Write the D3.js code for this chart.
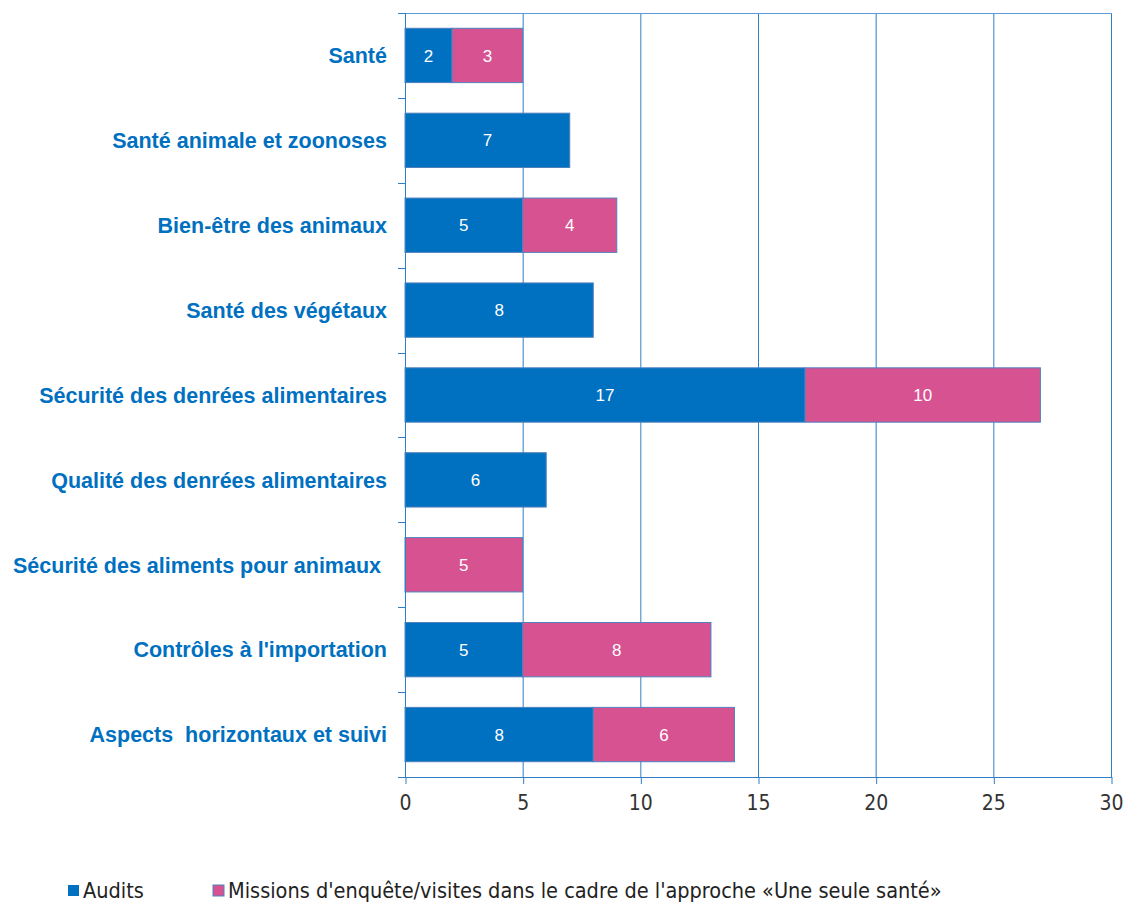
<!DOCTYPE html>
<html><head><meta charset="utf-8">
<script src="https://cdn.jsdelivr.net/npm/d3@7"></script>
<style>body{margin:0;background:#fff}svg{display:block}</style>
</head><body>
<svg id="c" width="1136" height="904"></svg>
<script>
const categories = ["Santé","Santé animale et zoonoses","Bien-être des animaux","Santé des végétaux","Sécurité des denrées alimentaires","Qualité des denrées alimentaires","Sécurité des aliments pour animaux ","Contrôles à l'importation","Aspects  horizontaux et suivi"];
const audits = [2,7,5,8,17,6,0,5,8];
const missions = [3,0,4,0,10,0,5,8,6];
const xTicks = [0,5,10,15,20,25,30];
const seriesNames = ["Audits","Missions d'enquête/visites dans le cadre de l'approche «Une seule santé»"];
const colors = ["#0070C0","#D75291"];

const svg = d3.select("#c");
const L=405, R=1111, T=13, B=777;
const x = d3.scaleLinear().domain([0,30]).range([L,R]);
const y = d3.scaleBand().domain(categories).range([T,B]).paddingInner(0.36).paddingOuter(0.18);
const axisCol = "#2E7FC4";
const narrow = "Liberation Sans Narrow, DejaVu Sans Condensed, Open Sans, sans-serif";

// gridlines
svg.append("g").selectAll("line").data(xTicks.filter(d=>d>0)).join("line")
  .attr("x1",d=>x(d)+0.5).attr("x2",d=>x(d)+0.5).attr("y1",T).attr("y2",B)
  .attr("stroke",axisCol).attr("stroke-width",1);
// top border
svg.append("line").attr("x1",L-7).attr("x2",R+1).attr("y1",T+0.5).attr("y2",T+0.5).attr("stroke","#5B9BD5").attr("stroke-width",1.2);

// bars
const rows = categories.map((c,i)=>({c, a:audits[i], m:missions[i]}));
const segs = [];
rows.forEach(r=>{
  if(r.a>0) segs.push({c:r.c, x0:0, x1:r.a, v:r.a, s:0});
  if(r.m>0) segs.push({c:r.c, x0:r.a, x1:r.a+r.m, v:r.m, s:1});
});
const g = svg.append("g");
g.selectAll("rect").data(segs).join("rect")
  .attr("x",d=>x(d.x0)).attr("width",d=>x(d.x1)-x(d.x0))
  .attr("y",d=>y(d.c)).attr("height",y.bandwidth())
  .attr("fill",d=>colors[d.s]).attr("stroke","#4F81BD").attr("stroke-width",1);
g.selectAll("text").data(segs).join("text")
  .attr("x",d=>(x(d.x0)+x(d.x1))/2).attr("y",d=>y(d.c)+y.bandwidth()/2)
  .attr("dy","0.36em").attr("text-anchor","middle")
  .attr("fill","#fff").attr("font-family","Liberation Sans, Arial, sans-serif").attr("font-size",17)
  .text(d=>d.v);

// left axis
svg.append("line").attr("x1",L+0.5).attr("x2",L+0.5).attr("y1",T).attr("y2",B).attr("stroke",axisCol).attr("stroke-width",1);
const sepY = d3.range(categories.length+1).map(i=>T+(B-T)*i/categories.length);
svg.append("g").selectAll("line").data(sepY).join("line")
  .attr("x1",L-7).attr("x2",L).attr("y1",d=>Math.round(d)+0.5).attr("y2",d=>Math.round(d)+0.5)
  .attr("stroke",axisCol);
svg.append("g").selectAll("text").data(categories).join("text")
  .attr("x",387).attr("y",d=>y(d)+y.bandwidth()/2).attr("dy","0.36em")
  .attr("text-anchor","end").attr("fill","#0070C0").attr("font-weight","bold")
  .attr("font-family","Liberation Sans, Arial, sans-serif").attr("font-size",21.5)
  .style("white-space","pre").text(d=>d);

// bottom axis
const xa = svg.append("g").attr("transform",`translate(0,${B})`)
  .call(d3.axisBottom(x).tickValues(xTicks).tickSize(7).tickPadding(11).tickSizeOuter(0));
xa.select(".domain").attr("stroke",axisCol).attr("d",`M${L-7},0.5H${R+1}`);
xa.selectAll(".tick line").attr("stroke",axisCol).attr("transform","translate(0.5,0)");
xa.selectAll(".tick text").attr("fill","#333").attr("font-size",21)
  .attr("font-family",narrow);

// legend
const leg = svg.append("g").attr("font-family",narrow).attr("font-size",21.5).attr("fill","#222");
const legX = [68,213];
seriesNames.forEach((n,i)=>{
  leg.append("rect").attr("x",legX[i]).attr("y",885).attr("width",11).attr("height",11).attr("fill",colors[i]).attr("stroke",i?"#4F81BD":"none");
  leg.append("text").attr("x",legX[i]+15).attr("y",898).text(n);
});
</script>
</body></html>
